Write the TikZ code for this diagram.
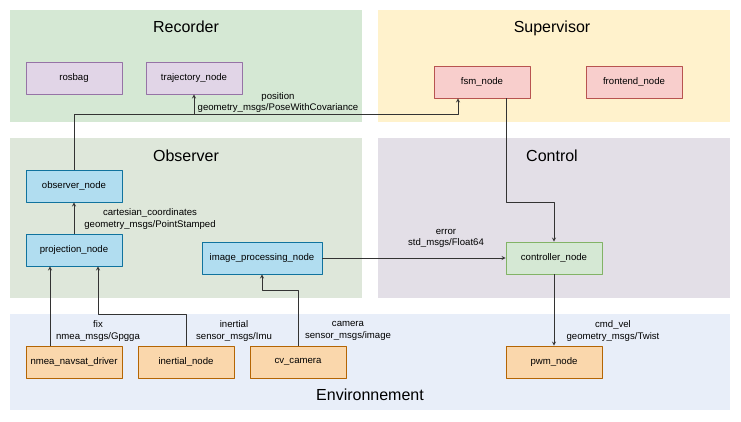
\documentclass[tikz,border=0pt]{standalone}
\usepackage{fontspec}
\setmainfont{Liberation Sans}
\definecolor{recbg}{HTML}{D5E8D4}
\definecolor{supbg}{HTML}{FFF2CC}
\definecolor{obsbg}{HTML}{DEE7DA}
\definecolor{ctlbg}{HTML}{E3DFE7}
\definecolor{envbg}{HTML}{E8EEF9}
\definecolor{purplefill}{HTML}{E1D5E7}
\definecolor{purpleline}{HTML}{9673A6}
\definecolor{redfill}{HTML}{F8CECC}
\definecolor{redline}{HTML}{B85450}
\definecolor{bluefill}{HTML}{B1DDF0}
\definecolor{blueline}{HTML}{10739E}
\definecolor{greenfill}{HTML}{D5E8D4}
\definecolor{greenline}{HTML}{82B366}
\definecolor{orangefill}{HTML}{FAD7AC}
\definecolor{orangeline}{HTML}{B46504}
\definecolor{wire}{HTML}{333333}
\begin{document}
\begin{tikzpicture}[x=1pt,y=-1pt,>=stealth,line join=round,font=\fontsize{9.6}{11.5}\selectfont,
	rosnode/.style={draw,line width=0.8pt,minimum width=96pt,minimum height=32pt,inner sep=0pt},
	title/.style={font=\fontsize{16}{19}\selectfont,anchor=base},
	topic/.style={align=center,inner sep=0pt},
	wire/.style={draw=wire,line width=0.8pt,->}]
		\useasboundingbox (0,0) rectangle (741,421);
		% groups
		\fill[recbg] (10,10) rectangle (362,122);
		\fill[supbg] (378,10) rectangle (730,122);
		\fill[obsbg] (10,138) rectangle (362,298);
		\fill[ctlbg] (378,138) rectangle (730,298);
		\fill[envbg] (10,314) rectangle (730,410);
		\node[title] (recorder) at (186,32.5) {Recorder};
		\node[title] (supervisor) at (552,32.5) {Supervisor};
		\node[title] (observer) at (186,161.5) {Observer};
		\node[title] (control) at (552,161) {Control};
		\node[title] (environnement) at (370,400) {Environnement};
		% nodes
		\node[rosnode,fill=purplefill,draw=purpleline] (rosbag) at (74,78) {rosbag};
		\node[rosnode,fill=purplefill,draw=purpleline] (traj) at (194,78) {trajectory\_node};
		\node[rosnode,fill=redfill,draw=redline] (fsm) at (482,82) {fsm\_node};
		\node[rosnode,fill=redfill,draw=redline] (frontend) at (634,82) {frontend\_node};
		\node[rosnode,fill=bluefill,draw=blueline] (obs) at (74,186) {observer\_node};
		\node[rosnode,fill=bluefill,draw=blueline] (proj) at (74,250) {projection\_node};
		\node[rosnode,fill=bluefill,draw=blueline,minimum width=120pt] (imgproc) at (262,258) {image\_processing\_node};
		\node[rosnode,fill=greenfill,draw=greenline] (ctrl) at (554,258) {controller\_node};
		\node[rosnode,fill=orangefill,draw=orangeline] (nmea) at (74,362) {nmea\_navsat\_driver};
		\node[rosnode,fill=orangefill,draw=orangeline] (inertial) at (186,362) {inertial\_node};
		\node[rosnode,fill=orangefill,draw=orangeline] (cam) at (298,362) {cv\_camera};
		\node[rosnode,fill=orangefill,draw=orangeline] (pwm) at (554,362) {pwm\_node};
		% topics
		\coordinate (posbus) at (74,114);
		\coordinate (posbranch) at (194,114);
		\draw[wire] (obs.north) -- (posbus) -| ([xshift=-24pt]fsm.south);
		\draw[wire] (posbranch) -- (traj.south);
		\node[topic] (poslbl) at (278,102.5) {position\\geometry\_msgs/PoseWithCovariance};
		\draw[wire] (proj.north) -- (obs.south);
		\node[topic] (cartlbl) at (150,219) {cartesian\_coordinates\\geometry\_msgs/PointStamped};
		\draw[wire] ([xshift=-24pt]nmea.north) -- ([xshift=-24pt]proj.south);
		\node[topic] (fixlbl) at (98,331) {fix\\nmea\_msgs/Gpgga};
		\draw[wire] (inertial.north) |- (98,314) -- ([xshift=24pt]proj.south);
		\node[topic] (imulbl) at (234,331) {inertial\\sensor\_msgs/Imu};
		\draw[wire] (cam.north) |- (262,290) -- (imgproc.south);
		\node[topic] (camlbl) at (348,331) {camera\\sensor\_msgs/image};
		\draw[wire] (imgproc.east) -- (ctrl.west);
		\node[topic] (errlbl) at (446,238.5) {error\\std\_msgs/Float64};
		\draw[wire] ([xshift=24pt]fsm.south) |- (554,202) -- (ctrl.north);
		\draw[wire] (ctrl.south) -- (pwm.north);
		\node[topic] (cmdlbl) at (613,331) {cmd\_vel\\geometry\_msgs/Twist};
\end{tikzpicture}
\end{document}
